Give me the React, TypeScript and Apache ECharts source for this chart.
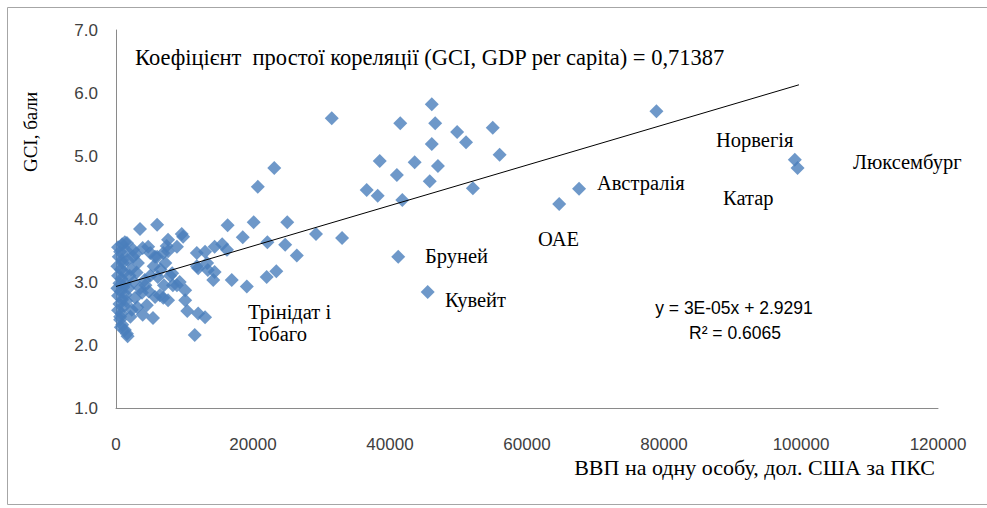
import React, { useEffect, useRef } from 'react';
import * as echarts from 'echarts';

// GDP per capita (PPP, USD) and GCI score for each country
const gdpPerCapita: number[] = [
  31500, 46100, 41500, 46600, 49800, 55000, 46100, 51100, 56000, 38500,
  43600, 41000, 47000, 45800, 36600, 38200, 41800, 52100, 23100, 20700,
  16300, 20100, 25000, 18500, 22100, 29200, 33000, 24700, 26400, 16900,
  19100, 22000, 23400, 78900, 67600, 64700, 41200, 45500, 99100, 99500,
  11800, 13000, 14400, 15500, 16200, 9800, 12000, 13400, 14400, 14200,
  11800, 13300, 11500, 10400, 12000, 13000, 3500, 6000, 1300, 4700,
  7600, 9600, 6900, 8900, 1600, 2500, 3900, 5000, 6000, 7400,
  7600, 900, 3200, 5700, 7200, 1300, 4200, 6100, 8200, 8900,
  10100, 3800, 5700, 7600, 10100, 8300, 9300, 6900, 4500, 3100,
  2300, 3900, 5400, 300, 600, 900, 400, 1000, 200, 700,
  1200, 300, 800, 500, 1100, 200, 700, 1400, 300, 900,
  500, 1200, 300, 800, 600, 900, 1300, 1700, 600, 1500,
  1800, 2000, 1700, 2200, 2600, 2800, 2100, 2500, 3000, 3500,
  4300, 5000, 5500, 6500, 7000, 4800, 2900, 1500, 6400, 7900,
  1600, 700,
];
const gciScore: number[] = [
  5.60, 5.82, 5.52, 5.52, 5.38, 5.45, 5.19, 5.22, 5.02, 4.92,
  4.90, 4.70, 4.84, 4.60, 4.46, 4.37, 4.30, 4.49, 4.81, 4.51,
  3.90, 3.95, 3.95, 3.71, 3.63, 3.76, 3.70, 3.59, 3.42, 3.03,
  2.93, 3.08, 3.17, 5.71, 4.48, 4.24, 3.40, 2.84, 4.94, 4.81,
  3.46, 3.48, 3.56, 3.60, 3.51, 3.72, 3.22, 3.19, 3.16, 3.03,
  3.25, 3.30, 2.16, 2.54, 2.50, 2.44, 3.84, 3.91, 3.63, 3.56,
  3.67, 3.76, 3.46, 3.56, 3.62, 3.51, 3.54, 3.46, 3.40, 3.57,
  3.49, 3.35, 3.30, 3.40, 3.30, 2.98, 3.03, 3.08, 3.14, 2.95,
  2.87, 2.83, 2.76, 2.71, 2.71, 2.95, 3.00, 2.75, 2.63, 2.60,
  2.56, 2.48, 2.43, 3.55, 3.48, 3.60, 3.40, 3.30, 3.25, 3.20,
  3.15, 3.10, 3.05, 2.98, 2.92, 2.90, 2.85, 2.80, 2.78, 2.72,
  2.65, 2.62, 2.55, 2.50, 2.40, 2.32, 2.24, 2.14, 2.45, 2.70,
  2.90, 3.10, 3.35, 3.20, 3.00, 2.75, 2.45, 3.40, 3.15, 2.90,
  2.95, 3.10, 3.25, 3.20, 2.95, 2.85, 3.45, 3.50, 2.79, 3.10,
  2.18, 2.28,
];

// Linear trend line end points (y = 3E-05x + 2.9291)
const trendX: number[] = [0, 99700];
const trendY: number[] = [2.9291, 6.13];

const yTickValues: number[] = [1, 2, 3, 4, 5, 6, 7];
const xTickValues: number[] = [0, 20000, 40000, 60000, 80000, 100000, 120000];

const countryLabels: string[] = ['Трінідат і', 'Тобаго', 'Бруней', 'Кувейт', 'ОАЕ', 'Австралія', 'Норвегія', 'Катар', 'Люксембург'];

const titleText = 'Коефіцієнт  простої кореляції (GCI, GDP per capita) = 0,71387';
const equationText = 'y = 3E-05x + 2.9291';
const r2Text = 'R² = 0.6065';
const xAxisTitle = 'ВВП на одну особу, дол. США за ПКС';
const yAxisTitle = 'GCI, бали';

const SERIF = 'Liberation Serif';
const SANS = 'Liberation Sans';

export default function App() {
  const ref = useRef<HTMLDivElement | null>(null);

  useEffect(() => {
    if (!ref.current) return;
    const chart = echarts.init(ref.current, undefined, { renderer: 'svg' });
    const points = gdpPerCapita.map((x, i) => [x, gciScore[i]]);
    const trend = trendX.map((x, i) => [x, trendY[i]]);

    const labelPos: [number, number][] = [
      [248, 312], [248, 334], [425, 256], [445, 300], [538, 239],
      [597, 183], [716, 140], [723, 198], [853, 162],
    ];

    const serifText = (text: string, x: number, y: number, size = 18, extra: any = {}) => ({
      type: 'text',
      x,
      y,
      silent: true,
      style: {
        text,
        fill: '#000',
        fontFamily: SERIF,
        fontSize: size,
        textVerticalAlign: 'middle',
        ...extra,
      },
    });

    chart.setOption({
      animation: false,
      backgroundColor: '#fff',
      grid: { left: 116, right: 49, top: 30, bottom: 100, containLabel: false },
      xAxis: {
        type: 'value',
        min: xTickValues[0],
        max: xTickValues[xTickValues.length - 1],
        interval: 20000,
        splitLine: { show: false },
        axisTick: { show: false },
        axisLine: { show: true, onZero: false, lineStyle: { color: '#8a8a8a', width: 1 } },
        axisLabel: {
          color: '#404040', fontSize: 17, fontFamily: SANS, margin: 28,
          formatter: (v: number) => String(v),
        },
      },
      yAxis: {
        type: 'value',
        min: yTickValues[0],
        max: yTickValues[yTickValues.length - 1],
        interval: 1,
        splitLine: { show: false },
        axisTick: { show: false },
        axisLine: { show: true, onZero: false, lineStyle: { color: '#8a8a8a', width: 1 } },
        axisLabel: {
          color: '#404040', fontSize: 17, fontFamily: SANS, margin: 18,
          formatter: (v: number) => v.toFixed(1),
        },
      },
      series: [
        {
          type: 'line',
          data: trend,
          symbol: 'none',
          lineStyle: { color: '#000', width: 1 },
          silent: true,
          z: 3,
        },
        {
          type: 'scatter',
          data: points,
          symbol: 'diamond',
          symbolSize: 14,
          itemStyle: { color: '#4a7ebb' },
          z: 2,
        },
      ],
      graphic: [
        {
          type: 'rect',
          shape: { x: 7.5, y: 7.5, width: 990, height: 497 },
          style: { fill: 'none', stroke: '#a6a6a6', lineWidth: 1 },
          silent: true,
          z: -1,
        },
        serifText(titleText, 135, 57, 22.5),
        {
          type: 'text',
          x: 30,
          y: 132,
          rotation: Math.PI / 2,
          silent: true,
          style: {
            text: yAxisTitle,
            fill: '#000',
            fontFamily: SERIF,
            fontSize: 19,
            textAlign: 'center',
            textVerticalAlign: 'middle',
          },
        },
        serifText(xAxisTitle, 935, 467, 22, { textAlign: 'right' }),
        ...countryLabels.map((t, i) => serifText(t, labelPos[i][0], labelPos[i][1], 20.5)),
        {
          type: 'text',
          x: 734,
          y: 308,
          silent: true,
          style: { text: equationText, fill: '#000', fontFamily: SANS, fontSize: 17.5, textAlign: 'center', textVerticalAlign: 'middle' },
        },
        {
          type: 'text',
          x: 735,
          y: 333,
          silent: true,
          style: { text: r2Text, fill: '#000', fontFamily: SANS, fontSize: 17.5, textAlign: 'center', textVerticalAlign: 'middle' },
        },
      ],
    });

    return () => chart.dispose();
  }, []);

  return (
    <div
      ref={ref}
      style={{ position: 'fixed', left: 0, top: 0, width: 987, height: 508, background: '#fff' }}
    />
  );
}
